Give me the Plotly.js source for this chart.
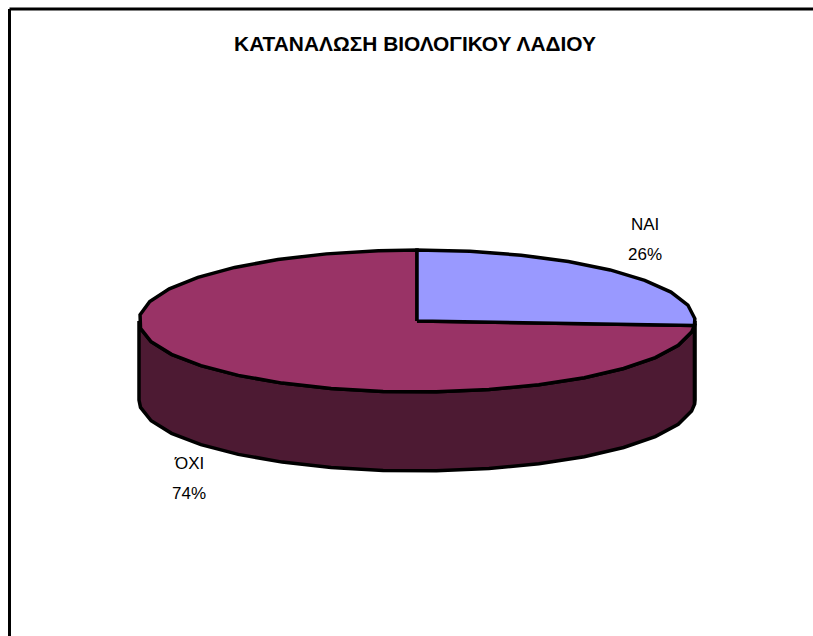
<!DOCTYPE html>
<html>
<head>
<meta charset="utf-8">
<script src="https://cdn.plot.ly/plotly-3.0.1.min.js"></script>
<style>html,body{margin:0;padding:0;background:#fff;overflow:hidden}#chart{width:813px;height:636px}</style>
</head>
<body>
<div id="chart"></div>
<script>
const chartTitle = 'ΚΑΤΑΝΑΛΩΣΗ ΒΙΟΛΟΓΙΚΟΥ ΛΑΔΙΟΥ';
const categories = ['ΝΑΙ', 'ΌΧΙ'];
const values = [26, 74];
const topColors = ['#9999FF', '#993366'];
const wallColors = ['#4D4D80', '#4D1A33'];
const labelAnchors = [[645, 224, 254], [189, 463, 493]];

// Oblique-pie projection, in the plot's axis units
const cx = 417, cy = 321, rx = 278, ry = 71, depth = 79, step = 11;
const rad = d => d * Math.PI / 180;
const px = a => cx + rx * Math.sin(rad(a));
const py = (a, dz) => cy - ry * Math.cos(rad(a)) + dz;

function arc(a0, a1, dz) {
  const out = [[px(a0), py(a0, dz)]];
  const first = Math.ceil(a0 / step) * step;
  for (let a = first; a < a1; a += step) if (a > a0) out.push([px(a), py(a, dz)]);
  out.push([px(a1), py(a1, dz)]);
  return out;
}

const total = values.reduce((s, v) => s + v, 0);
let start = 0;
const sweeps = values.map(v => { const r = [start, start + v / total * 360]; start = r[1]; return r; });

const line = {color: '#000', width: 3.5};
const poly = (pts, color, name) => ({
  type: 'scatter', mode: 'lines', x: pts.map(p => p[0]), y: pts.map(p => p[1]),
  fill: 'toself', fillcolor: color, line, hoverinfo: 'text', text: name, showlegend: false
});

const traces = [];
// Visible front wall of each slice (the half between 90° and 270°)
sweeps.forEach(([a0, a1], i) => {
  const lo = Math.max(a0, 90), hi = Math.min(a1, 270);
  if (hi > lo) {
    const pts = arc(lo, hi, 0).concat(arc(lo, hi, depth).reverse());
    pts.push(pts[0]);
    traces.push(poly(pts, wallColors[i], categories[i]));
  }
});
// Top faces, larger slice first so the smaller one sits on top
[1, 0].forEach(i => {
  const [a0, a1] = sweeps[i];
  const pts = [[cx, cy]].concat(arc(a0, a1, 0));
  pts.push([cx, cy]);
  traces.push(poly(pts, topColors[i], categories[i]));
});

const font = {family: '"Liberation Sans", Arial, sans-serif', size: 17, color: '#000'};
const annotations = [];
categories.forEach((c, i) => {
  const [ax, y1, y2] = labelAnchors[i];
  const pct = Math.round(values[i] / total * 100) + '%';
  [[c, y1], [pct, y2]].forEach(([text, y]) => annotations.push({
    x: ax, y, xref: 'x', yref: 'y', text, showarrow: false, font, xanchor: 'center', yanchor: 'middle'
  }));
});

const frame = {type: 'line', xref: 'paper', yref: 'paper', line: {color: '#000', width: 3}};
const layout = {
  width: 813, height: 636,
  margin: {l: 0, r: 0, t: 0, b: 0},
  paper_bgcolor: '#fff', plot_bgcolor: '#fff',
  showlegend: false,
  title: {text: '<b>' + chartTitle + '</b>', x: 415 / 813, xanchor: 'center', y: 1 - 44 / 636, yanchor: 'middle',
          font: {family: font.family, size: 20.9, color: '#000'}},
  xaxis: {range: [0, 813], visible: false, fixedrange: true},
  yaxis: {range: [636, 0], visible: false, fixedrange: true},
  annotations,
  shapes: [
    Object.assign({}, frame, {x0: 9.5 / 813, x1: 9.5 / 813, y0: 0, y1: 1 - 9 / 636}),
    Object.assign({}, frame, {x0: 9.5 / 813, x1: 1, y0: 1 - 9 / 636, y1: 1 - 9 / 636})
  ]
};
Plotly.newPlot('chart', traces, layout, {displayModeBar: false, staticPlot: true});
</script>
</body>
</html>
